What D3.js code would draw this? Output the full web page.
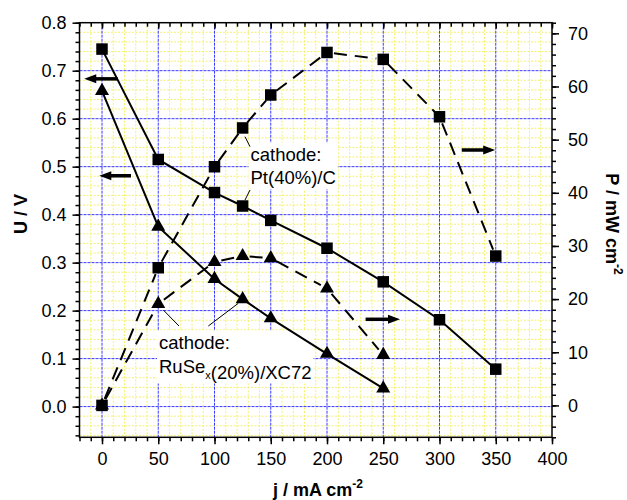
<!DOCTYPE html>
<html><head><meta charset="utf-8">
<script src="https://cdn.jsdelivr.net/npm/d3@7"></script>
<style>body{margin:0;background:#fff} text{font-family:"Liberation Sans",Arial,sans-serif}</style>
</head><body><svg id="c" width="627" height="500"></svg>
<script>
// ---- data ----
const currentPt = [0, 50, 100, 125, 150, 200, 250, 300, 350];
const voltagePt = [0.745, 0.515, 0.446, 0.418, 0.388, 0.330, 0.260, 0.181, 0.078];
const powerPt   = [0, 25.9, 44.9, 52.2, 58.4, 66.4, 65.1, 54.3, 28.1];
const currentRu = [0, 50, 100, 125, 150, 200, 250];
const voltageRu = [0.658, 0.375, 0.266, 0.224, 0.184, 0.110, 0.038];
const powerRu   = [0, 19.1, 27.0, 28.1, 27.7, 22.0, 9.5];
const xTicks = [0, 50, 100, 150, 200, 250, 300, 350, 400];
const uTicks = [0.0, 0.1, 0.2, 0.3, 0.4, 0.5, 0.6, 0.7, 0.8];
const pTicks = [0, 10, 20, 30, 40, 50, 60, 70];

const W = 627, H = 500;
const L = 79.5, R = 552, T = 22.7, B = 437.3;
const x  = d3.scaleLinear([-20, 400], [L, R]);
const yU = d3.scaleLinear([-0.064, 0.8], [B, T]);
const yP = d3.scaleLinear([-6, 72], [B, T]);
const svg = d3.select('#c');
svg.append('rect').attr('width', W).attr('height', H).attr('fill', '#fff');

const xMinor = d3.range(-20, 401, 10);
const uMinor = d3.range(-3, 41).map(i => +(i * 0.02).toFixed(2));
const pMinor = d3.range(-6, 73, 2);
const isMajorU = v => Math.abs(v * 10 - Math.round(v * 10)) < 1e-6;

// ---- grid ----
const grid = svg.append('g');
grid.selectAll('.gy').data(xMinor.filter(v => v % 50 !== 0 && v > -20 && v < 400)).join('line')
  .attr('x1', d => x(d)).attr('x2', d => x(d)).attr('y1', T).attr('y2', B)
  .attr('stroke', '#f4f070').attr('stroke-width', 1).attr('stroke-dasharray', '2,1.5');
grid.selectAll('.gx').data(uMinor.filter(v => !isMajorU(v))).join('line')
  .attr('y1', d => yU(d)).attr('y2', d => yU(d)).attr('x1', L).attr('x2', R)
  .attr('stroke', '#f4f070').attr('stroke-width', 1).attr('stroke-dasharray', '2,1.5');
grid.selectAll('.bx').data(xTicks.filter(v => v < 400)).join('line')
  .attr('x1', d => x(d)).attr('x2', d => x(d)).attr('y1', T).attr('y2', B)
  .attr('stroke', '#3a3aff').attr('stroke-width', 1).attr('stroke-dasharray', '3,1');
grid.selectAll('.by').data(uTicks.filter(v => v < 0.8)).join('line')
  .attr('y1', d => yU(d)).attr('y2', d => yU(d)).attr('x1', L).attr('x2', R)
  .attr('stroke', '#3a3aff').attr('stroke-width', 1).attr('stroke-dasharray', '3,1');

// ---- annotations text (with white boxes) ----
const annG = svg.append('g');
function label(lines, x0, y0, dy) {
  const g = annG.append('g');
  const t = g.append('text').attr('font-size', 18.5).attr('fill', '#000');
  lines.forEach((ln, i) => {
    const row = t.append('tspan').attr('x', x0).attr('y', y0 + i * dy);
    ln.forEach(part => {
      if (part.sub) {
        row.append('tspan').attr('font-size', 11).attr('dy', 6).text(part.t);
        row.append('tspan').attr('dy', -6).text('');
      } else row.append('tspan').text(part.t);
    });
  });
  const bb = t.node().getBBox();
  g.insert('rect', 'text').attr('x', bb.x - 2).attr('y', bb.y - 1).attr('width', bb.width + 4).attr('height', bb.height + 2).attr('fill', '#fff');
}
label([[{t: 'cathode:'}], [{t: 'Pt(40%)/C'}]], 250.5, 160.7, 23.5);
label([[{t: 'cathode:'}], [{t: 'RuSe'}, {t: 'x', sub: true}, {t: '(20%)/XC72'}]], 159, 348.5, 24);

// pointer lines
const ptr = [[245, 136.7, 250, 146.7], [250, 190, 245, 200], [163.3, 310, 179, 326], [208.3, 326, 238.3, 303.3]];
svg.append('g').selectAll('line').data(ptr).join('line')
  .attr('x1', d => d[0]).attr('y1', d => d[1]).attr('x2', d => d[2]).attr('y2', d => d[3])
  .attr('stroke', '#000').attr('stroke-width', 1);

// ---- series ----
const lineG = svg.append('g');
function solid(cx, vy, sy) {
  lineG.append('path').datum(cx.map((c, i) => [x(c), sy(vy[i])]))
    .attr('d', d3.line()).attr('fill', 'none').attr('stroke', '#000').attr('stroke-width', 2);
}
function dashed(cx, vy, sy) {
  const pts = cx.map((c, i) => [x(c), sy(vy[i])]);
  for (let i = 0; i < pts.length - 1; i++) {
    const [a, b] = [pts[i], pts[i + 1]];
    const dx = b[0] - a[0], dy = b[1] - a[1], len = Math.hypot(dx, dy), g = 7;
    const ux = dx / len, uy = dy / len;
    lineG.append('line')
      .attr('x1', a[0] + ux * g).attr('y1', a[1] + uy * g)
      .attr('x2', b[0] - ux * g).attr('y2', b[1] - uy * g)
      .attr('stroke', '#000').attr('stroke-width', 2).attr('stroke-dasharray', '13,8');
  }
}
solid(currentPt, voltagePt, yU);
solid(currentRu, voltageRu, yU);
dashed(currentPt, powerPt, yP);
dashed(currentRu, powerRu, yP);

function squares(cx, vy, sy) {
  lineG.append('g').selectAll('rect').data(cx).join('rect')
    .attr('x', (d) => x(d) - 5.75).attr('y', (d, i) => sy(vy[i]) - 5.75)
    .attr('width', 11.5).attr('height', 11.5).attr('fill', '#000');
}
function triangles(cx, vy, sy) {
  lineG.append('g').selectAll('path').data(cx).join('path')
    .attr('d', d3.symbol(d3.symbolTriangle, 85)())
    .attr('transform', (d, i) => `translate(${x(d)},${sy(vy[i])})`).attr('fill', '#000');
}
triangles(currentRu, voltageRu, yU);
triangles(currentRu, powerRu, yP);
squares(currentPt, voltagePt, yU);
squares(currentPt, powerPt, yP);

// ---- axis arrows ----
const arrows = [
  {x0: 13.9, x1: -15.8, v: 0.683, s: yU},
  {x0: 25.8, x1: -2.4, v: 0.481, s: yU},
  {x0: 319.8, x1: 349.5, v: 48.05, s: yP},
  {x0: 234.3, x1: 264.9, v: 16.2, s: yP}
];
arrows.forEach(a => {
  const X0 = x(a.x0), X1 = x(a.x1), Y = a.s(a.v), dir = Math.sign(X1 - X0);
  const hl = 12, hw = 4.5;
  svg.append('line').attr('x1', X0).attr('x2', X1 - dir * hl + dir).attr('y1', Y).attr('y2', Y)
    .attr('stroke', '#000').attr('stroke-width', 3.5);
  svg.append('path').attr('d', `M${X1},${Y}L${X1 - dir * hl},${Y - hw}L${X1 - dir * hl},${Y + hw}Z`).attr('fill', '#000');
});

// ---- axes ----
function style(g) {
  g.select('.domain').remove();
  g.selectAll('line').attr('stroke', '#000').attr('stroke-width', 1.5);
  g.selectAll('text').attr('font-size', 18).attr('fill', '#000')
    .attr('font-family', '"Liberation Sans",Arial,sans-serif');
  g.attr('font-family', null).attr('font-size', null);
}
svg.append('g').attr('transform', `translate(0,${B})`)
  .call(d3.axisBottom(x).tickValues(xMinor).tickSize(4).tickFormat('')).call(style);
svg.append('g').attr('transform', `translate(0,${B})`)
  .call(d3.axisBottom(x).tickValues(xTicks).tickSize(7).tickPadding(8).tickFormat(d3.format('d'))).call(style);
svg.append('g').attr('transform', `translate(0,${T})`)
  .call(d3.axisTop(x).tickValues(xMinor).tickSize(-4).tickFormat('')).call(style);
svg.append('g').attr('transform', `translate(0,${T})`)
  .call(d3.axisTop(x).tickValues(xTicks).tickSize(-6).tickFormat('')).call(style);
svg.append('g').attr('transform', `translate(${L},0)`)
  .call(d3.axisLeft(yU).tickValues(uMinor).tickSize(4).tickFormat('')).call(style);
svg.append('g').attr('transform', `translate(${L},0)`)
  .call(d3.axisLeft(yU).tickValues(uTicks).tickSize(7).tickPadding(6).tickFormat(d3.format('.1f'))).call(style);
svg.append('g').attr('transform', `translate(${R},0)`)
  .call(d3.axisRight(yP).tickValues(pMinor).tickSize(4).tickFormat('')).call(style);
svg.append('g').attr('transform', `translate(${R},0)`)
  .call(d3.axisRight(yP).tickValues(pTicks).tickSize(7).tickPadding(9).tickFormat(d3.format('d'))).call(style);
svg.append('rect').attr('x', L).attr('y', T).attr('width', R - L).attr('height', B - T)
  .attr('fill', 'none').attr('stroke', '#000').attr('stroke-width', 1.5);

// ---- titles ----
const xt = svg.append('text').attr('x', 318).attr('y', 496).attr('text-anchor', 'middle')
  .attr('font-size', 18).attr('font-weight', 'bold');
xt.append('tspan').text('j / mA cm');
xt.append('tspan').attr('font-size', 12).attr('dy', -8).text('-2');
svg.append('text').attr('transform', 'translate(27,214) rotate(-90)').attr('text-anchor', 'middle')
  .attr('font-size', 18).attr('font-weight', 'bold').text('U / V');
const yt = svg.append('text').attr('transform', 'translate(606,224) rotate(90)').attr('text-anchor', 'middle')
  .attr('font-size', 18).attr('font-weight', 'bold');
yt.append('tspan').text('P / mW cm');
yt.append('tspan').attr('font-size', 12).attr('dy', -8).text('-2');
</script></body></html>
